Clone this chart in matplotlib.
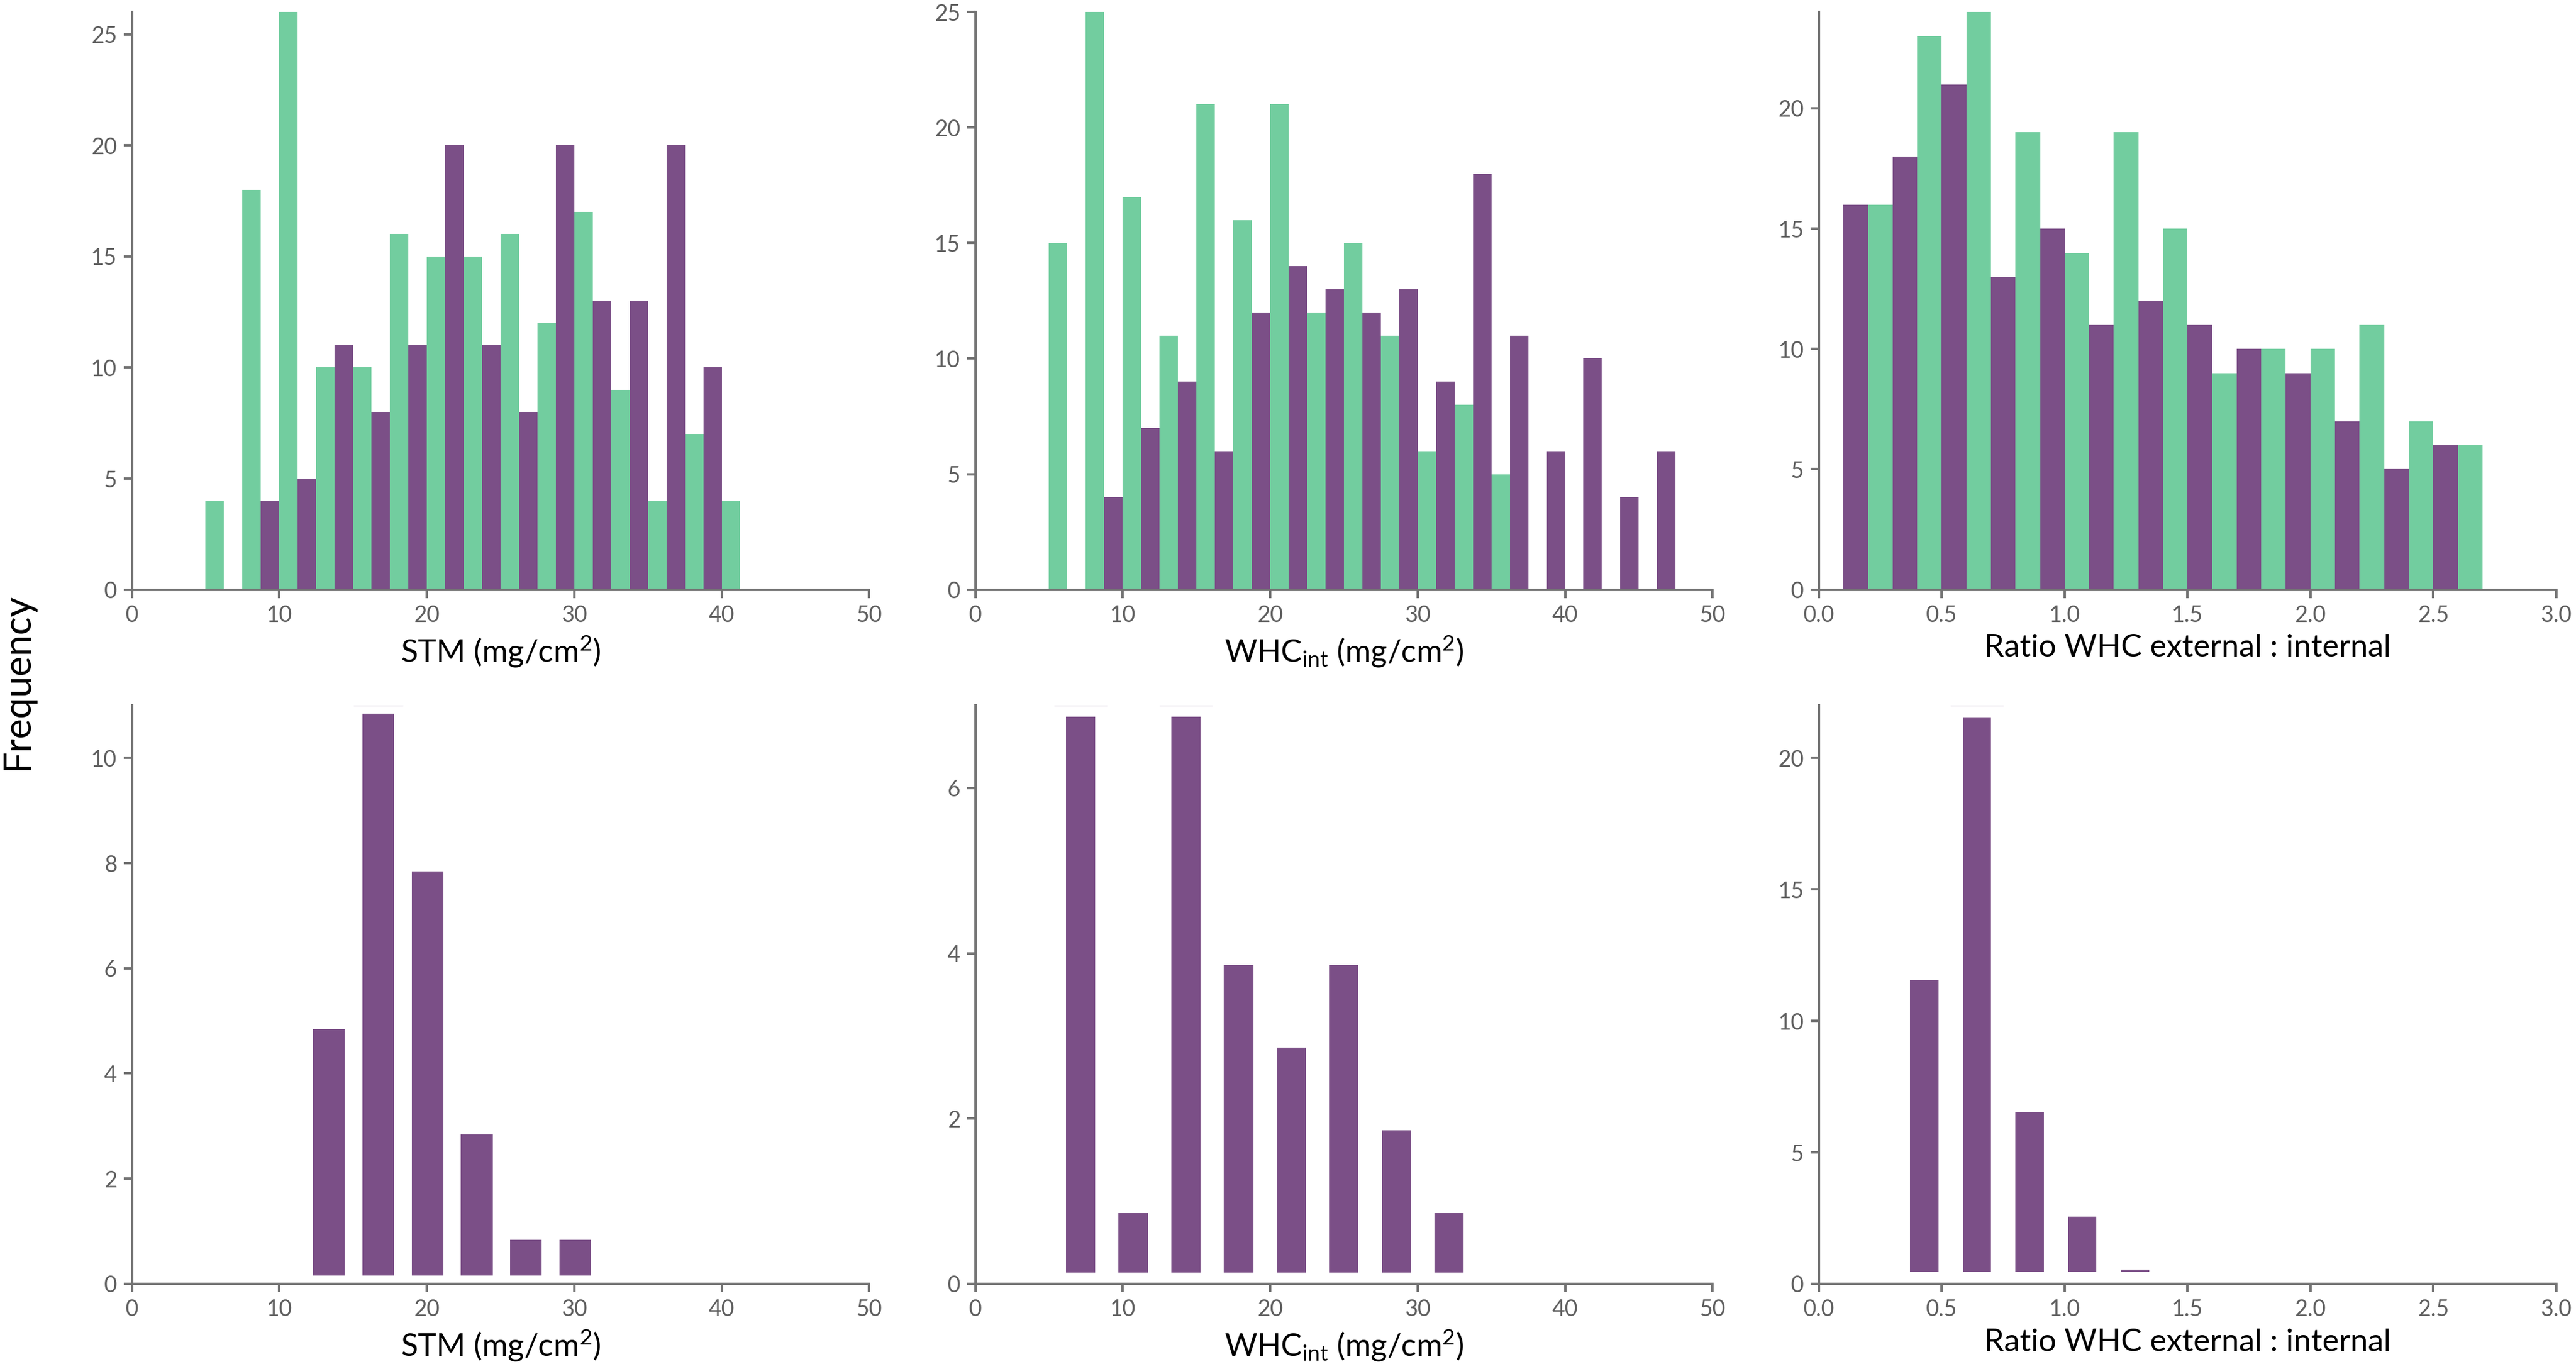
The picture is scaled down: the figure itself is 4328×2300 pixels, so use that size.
import numpy as np
import matplotlib
matplotlib.use("Agg")
import matplotlib.pyplot as plt

plt.rcParams['font.family'] = ['Lato', 'DejaVu Sans']
plt.rcParams['mathtext.fontset'] = 'custom'
plt.rcParams['mathtext.rm'] = 'Lato'
plt.rcParams['mathtext.it'] = 'Lato:italic'
plt.rcParams['mathtext.bf'] = 'Lato:bold'

GREEN = '#72CD9F'
PURPLE = '#7B4F87'
SPINE = '#737373'
TICKC = '#5f5f5f'

# ---------------- top row data ----------------
stm_edges = np.arange(5, 42.5 + 0.01, 2.5)
stm_green = [4, 18, 26, 10, 10, 16, 15, 15, 16, 12, 17, 9, 4, 7, 4]
stm_purple = [0, 4, 5, 11, 8, 11, 20, 11, 8, 20, 13, 13, 20, 10, 0]

whc_edges = np.arange(5, 47.5 + 0.01, 2.5)
whc_green = [15, 25, 17, 11, 21, 16, 21, 12, 15, 11, 6, 8, 5, 0, 0, 0, 0]
whc_purple = [0, 4, 7, 9, 6, 12, 14, 13, 12, 13, 9, 18, 11, 6, 10, 4, 6]

ratio_edges = np.arange(0.1, 2.7 + 0.001, 0.2)
ratio_purple = [16, 18, 21, 13, 15, 11, 12, 11, 10, 9, 7, 5, 6]
ratio_green = [16, 23, 24, 19, 14, 19, 15, 9, 10, 10, 11, 7, 6]

# ---------------- bottom row data ----------------
stm2_edges = np.linspace(11.7, 31.74, 7)
stm2_counts = [5, 11, 8, 3, 1, 1]

whc2_edges = np.linspace(5.357, 33.929, 9)
whc2_counts = [7, 1, 7, 4, 3, 4, 2, 1]

ratio2_edges = np.linspace(0.3215, 1.393, 6)
ratio2_counts = [12, 22, 7, 3, 1]

xlabels = [r'STM (mg/cm$^{2}$)', r'WHC$_{\mathrm{int}}$ (mg/cm$^{2}$)',
           'Ratio WHC external : internal']

fig = plt.figure(figsize=(21.64, 11.5), dpi=200)

lefts = [0.0512, 0.3786, 0.7061]
width = 0.2862
top_b, top_h = 0.5693, 0.4219
bot_b, bot_h = 0.0622, 0.4226


def style(ax, xlim, xticks, ylim, yticks, xfmt=None):
    for s in ['top', 'right']:
        ax.spines[s].set_visible(False)
    for s in ['left', 'bottom']:
        ax.spines[s].set_color(SPINE)
        ax.spines[s].set_linewidth(1.5)
    ax.set_xlim(*xlim)
    ax.set_ylim(*ylim)
    ax.set_xticks(xticks)
    ax.set_yticks(yticks)
    if xfmt:
        ax.set_xticklabels([xfmt.format(v) for v in xticks])
    ax.tick_params(axis='both', colors=SPINE, width=1.5, length=5,
                   labelsize=13.5, labelcolor=TICKC, pad=4)


def paired(ax, edges, first, second, c1, c2):
    edges = np.asarray(edges)
    bw = edges[1] - edges[0]
    left = edges[:-1]
    ax.bar(left, first, width=bw / 2, align='edge', color=c1, linewidth=0)
    ax.bar(left + bw / 2, second, width=bw / 2, align='edge', color=c2, linewidth=0)


def floating(ax, edges, counts, frac, inset):
    edges = np.asarray(edges)
    bw = edges[1] - edges[0]
    centers = (edges[:-1] + edges[1:]) / 2
    counts = np.asarray(counts, dtype=float)
    ax.bar(centers, counts - 2 * inset, bottom=inset, width=bw * frac,
           color=PURPLE, linewidth=0)
    mx = counts.max()
    for c, n in zip(centers, counts):
        if n == mx:
            ax.hlines(n, c - bw / 2, c + bw / 2, color='#ebe6ee', linewidth=1.0)


XL = 19

# top row
ax = fig.add_axes([lefts[0], top_b, width, top_h])
paired(ax, stm_edges, stm_green, stm_purple, GREEN, PURPLE)
style(ax, (0, 50), [0, 10, 20, 30, 40, 50], (0, 26), [0, 5, 10, 15, 20, 25])
ax.set_xlabel(xlabels[0], fontsize=XL, labelpad=5)

ax = fig.add_axes([lefts[1], top_b, width, top_h])
paired(ax, whc_edges, whc_green, whc_purple, GREEN, PURPLE)
style(ax, (0, 50), [0, 10, 20, 30, 40, 50], (0, 25), [0, 5, 10, 15, 20, 25])
ax.set_xlabel(xlabels[1], fontsize=XL, labelpad=5)

ax = fig.add_axes([lefts[2], top_b, width, top_h])
paired(ax, ratio_edges, ratio_purple, ratio_green, PURPLE, GREEN)
style(ax, (0, 3), [0, 0.5, 1, 1.5, 2, 2.5, 3], (0, 24), [0, 5, 10, 15, 20], xfmt='{:.1f}')
ax.set_xlabel(xlabels[2], fontsize=XL, labelpad=5)

# bottom row
ax = fig.add_axes([lefts[0], bot_b, width, bot_h])
floating(ax, stm2_edges, stm2_counts, 0.645, 0.16)
style(ax, (0, 50), [0, 10, 20, 30, 40, 50], (0, 11), [0, 2, 4, 6, 8, 10])
ax.set_xlabel(xlabels[0], fontsize=XL, labelpad=5)

ax = fig.add_axes([lefts[1], bot_b, width, bot_h])
floating(ax, whc2_edges, whc2_counts, 0.555, 0.14)
style(ax, (0, 50), [0, 10, 20, 30, 40, 50], (0, 7), [0, 2, 4, 6])
ax.set_xlabel(xlabels[1], fontsize=XL, labelpad=5)

ax = fig.add_axes([lefts[2], bot_b, width, bot_h])
floating(ax, ratio2_edges, ratio2_counts, 0.54, 0.45)
style(ax, (0, 3), [0, 0.5, 1, 1.5, 2, 2.5, 3], (0, 22), [0, 5, 10, 15, 20], xfmt='{:.1f}')
ax.set_xlabel(xlabels[2], fontsize=XL, labelpad=5)

fig.text(0.0068, 0.502, 'Frequency', rotation=90, fontsize=23,
         ha='center', va='center', color='black')

fig.savefig('out.png', dpi=200)
